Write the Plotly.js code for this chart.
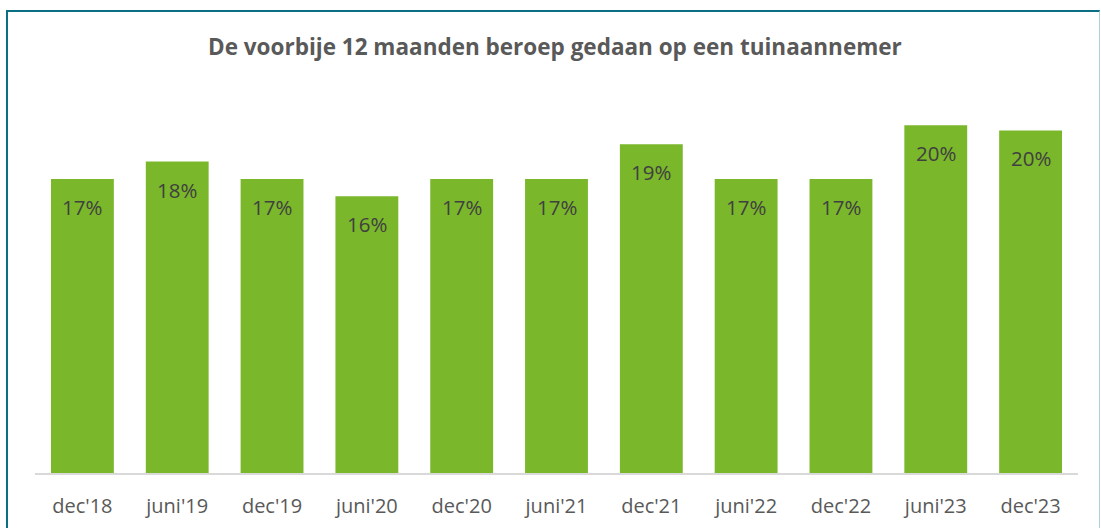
<!DOCTYPE html>
<html><head><meta charset="utf-8">
<script src="https://cdn.plot.ly/plotly-3.0.1.min.js"></script>
<style>
html,body{margin:0;padding:0;background:#fff;overflow:hidden}
#chart{width:1101px;height:528px;position:absolute;left:0;top:0}
#frame{position:absolute;left:6px;top:10px;width:1091px;height:530px;border-left:2px solid #0B6F83;border-top:2px solid #0B6F83;border-right:1px solid #A9D0DE;pointer-events:none}
</style></head>
<body>
<div id="chart"></div>
<div id="frame"></div>
<script>
const categories = ["dec'18","juni'19","dec'19","juni'20","dec'20","juni'21","dec'21","juni'22","dec'22","juni'23","dec'23"];
const values = [0.17,0.18,0.17,0.16,0.17,0.17,0.19,0.17,0.17,0.201,0.198];
const titleText = "De voorbije 12 maanden beroep gedaan op een tuinaannemer";

const trace = {
  type: 'bar', x: categories, y: values,
  marker: {color: '#7AB72B'},
  hoverinfo: 'skip'
};
function pct(v){ return Math.round(v*100) + '%'; }
const annotations = categories.map((c,i)=>({
  x: c, y: values[i], xref:'x', yref:'y',
  text: pct(values[i]), showarrow:false, yanchor:'middle', yshift:-28,
  font:{family:'Open Sans, sans-serif', size:20.5, color:'#404040'}
}));

const layout = {
  width:1101, height:528,
  margin:{l:35, r:23, t:100, b:55},
  paper_bgcolor:'rgba(0,0,0,0)', plot_bgcolor:'rgba(0,0,0,0)',
  bargap:0.337,
  title:{text:'<b>'+titleText+'</b>', x:0.504, xanchor:'center', y:1-47/528, yanchor:'middle', yref:'container',
    font:{family:'Open Sans, sans-serif', size:22.5, color:'#595959'}},
  xaxis:{showline:true, linecolor:'#D9D9D9', linewidth:2, ticks:'outside', ticklen:14, tickcolor:'rgba(0,0,0,0)',
    tickfont:{family:'Open Sans, sans-serif', size:20, color:'#595959'}, showgrid:false, fixedrange:true},
  yaxis:{range:[0,0.2156], visible:false, showgrid:false, zeroline:false, fixedrange:true},
  annotations: annotations,
  showlegend:false
};
Plotly.newPlot('chart',[trace],layout,{displayModeBar:false, staticPlot:true});
</script>
</body></html>
